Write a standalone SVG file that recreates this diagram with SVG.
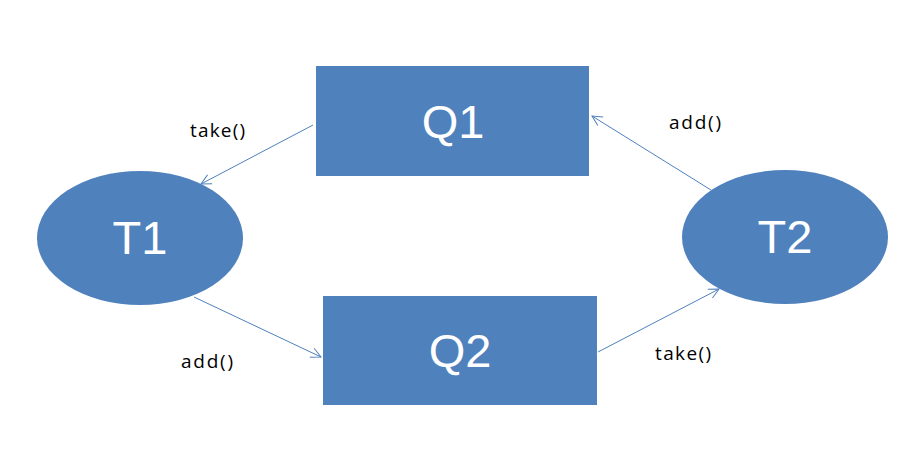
<svg xmlns="http://www.w3.org/2000/svg" width="915" height="452" viewBox="0 0 915 452">
<style>
.n{fill:#4F81BD;}
.t{font-family:"Liberation Sans",Arial,sans-serif;font-size:47px;fill:#fff;text-anchor:middle;}
.l{font-family:"Open Sans","Liberation Sans",Arial,sans-serif;font-size:19px;fill:#000;}
.c{stroke:#4F81BD;stroke-width:1;fill:none;marker-end:url(#a);}
</style>
<defs>
<marker id="a" viewBox="0 0 12 12" refX="11" refY="6" markerWidth="12" markerHeight="12" markerUnits="userSpaceOnUse" orient="auto">
<path d="M1,1 L11,6 L1,11" fill="none" stroke="#4F81BD" stroke-width="1"/>
</marker>
</defs>
<rect width="915" height="452" fill="#fff"/>
<g id="Q1"><rect class="n" x="316" y="66" width="273" height="110"/><text class="t" x="453" y="138">Q1</text></g>
<g id="Q2"><rect class="n" x="323" y="296" width="274" height="109"/><text class="t" x="460" y="367">Q2</text></g>
<g id="T1"><ellipse class="n" cx="140" cy="238" rx="103" ry="67"/><text class="t" x="140" y="254">T1</text></g>
<g id="T2"><ellipse class="n" cx="785" cy="237" rx="103" ry="67"/><text class="t" x="785" y="253">T2</text></g>
<g id="connectors">
<line class="c" x1="313" y1="125" x2="201" y2="184"/>
<line class="c" x1="194" y1="297" x2="321" y2="357"/>
<line class="c" x1="711" y1="190" x2="592" y2="116"/>
<line class="c" x1="598" y1="352" x2="719" y2="289"/>
<text class="l" x="190" y="137" textLength="55" lengthAdjust="spacing">take()</text>
<text class="l" x="181" y="368" textLength="52" lengthAdjust="spacing">add()</text>
<text class="l" x="669" y="129" textLength="52" lengthAdjust="spacing">add()</text>
<text class="l" x="655" y="360" textLength="56" lengthAdjust="spacing">take()</text>
</g>
</svg>
